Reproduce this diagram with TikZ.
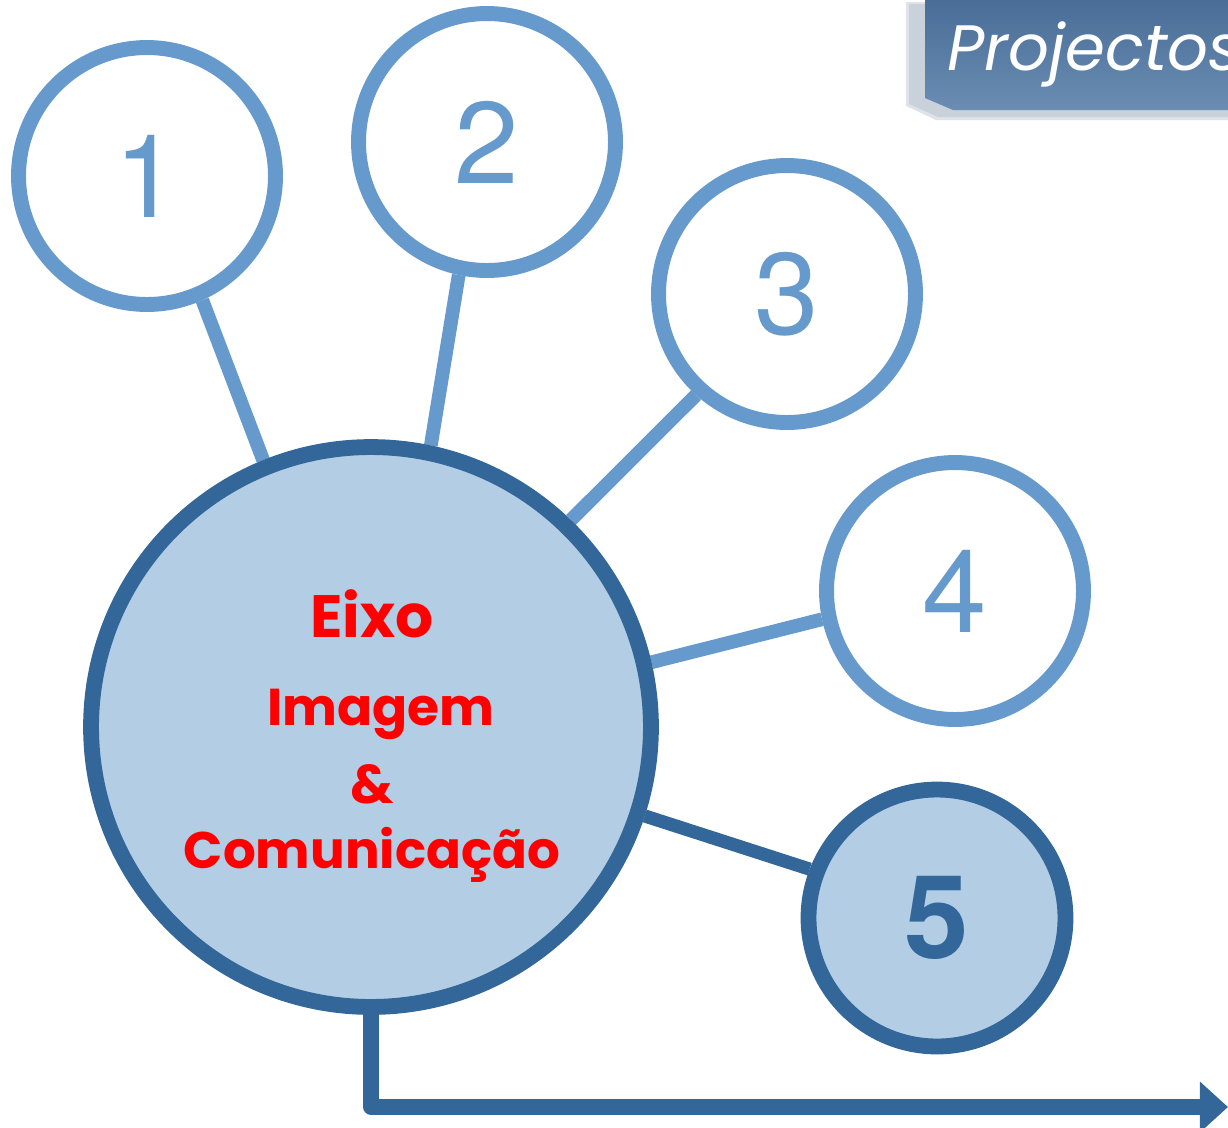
\documentclass[tikz,border=0pt]{standalone}
\usepackage{fontspec}
\setmainfont{TeX Gyre Heros}
\newfontfamily\gotica{Poppins}
\usetikzlibrary{arrows.meta,backgrounds}
\definecolor{anelclaro}{HTML}{6699CC}
\definecolor{aneleixo}{HTML}{336699}
\definecolor{fundoeixo}{HTML}{B3CDE5}
\definecolor{sombra}{HTML}{C9D1DB}
\definecolor{caixatopo}{HTML}{496D97}
\definecolor{caixabase}{HTML}{6B8DB3}

\begin{document}
\begin{tikzpicture}[x=0.02cm,y=-0.02cm,
  projecto/.style={circle,draw=anelclaro,fill=white,line width=8.5pt,minimum size=5.14cm,inner sep=0pt,text=anelclaro,font=\fontsize{66}{66}\selectfont},
  projectoeixo/.style={projecto,draw=aneleixo,fill=fundoeixo,line width=9pt,text=aneleixo,font=\fontsize{66}{66}\selectfont\bfseries},
  ligacao/.style={draw=anelclaro,line width=7.8pt},
  ligacaoeixo/.style={ligacao,draw=aneleixo,line width=7.5pt},
  titulo/.style={anchor=base,text=red,inner sep=0pt,font=\gotica\bfseries\fontsize{#1}{#1}\selectfont},
  seta/.style={draw=aneleixo,line width=9pt,line join=round,-{Triangle[length=16pt,width=28pt]}}]
\useasboundingbox (0,0) rectangle (1228,1127);

\fill[sombra!60] (906,2) -- (1228,2) -- (1228,120) -- (936,120) -- (906,106) -- cycle;
\fill[sombra] (909,4) -- (1228,4) -- (1228,117) -- (938,117) -- (909,104) -- cycle;
\shade[top color=caixatopo,bottom color=caixabase] (925,0) -- (1228,0) -- (1228,110) -- (953,110) -- (925,98) -- cycle;
\node[anchor=base west,inner sep=0pt,text=white,font=\gotica\itshape\fontsize{36.5}{36.5}\selectfont] (proj) at (947,70) {Projectos};

\node[circle,draw=aneleixo,fill=fundoeixo,line width=9pt,minimum size=11.2cm,inner sep=0pt] (eixo) at (371,727) {};
\node[projecto] (p1) at (147,176) {1};
\node[projecto] (p2) at (487,142) {2};
\node[projecto] (p3) at (787,294) {3};
\node[projecto] (p4) at (955,591) {4};
\node[projectoeixo] (p5) at (937,918) {5};

\node[titulo=34] (t1) at (372,637) {Eixo};
\node[titulo=29.5] (t2) at (381,725) {Imagem};
\node[titulo=31] (t3) at (372,803) {\&};
\node[titulo=29.3] (t4) at (372,868) {Comunicação};

\begin{scope}[on background layer]
\draw[ligacao] (p1.-66) -- (eixo.112);
\draw[ligacao] (p2.-102) -- (eixo.78);
\draw[ligacao] (p3.-132) -- (eixo.46);
\draw[ligacao] (p4.-168) -- (eixo.13);
\draw[ligacaoeixo] (p5.159) -- (eixo.-18);
\end{scope}

\coordinate (fim) at (1228,1107);
\draw[seta] (eixo.south) |- (fim);
\end{tikzpicture}
\end{document}
